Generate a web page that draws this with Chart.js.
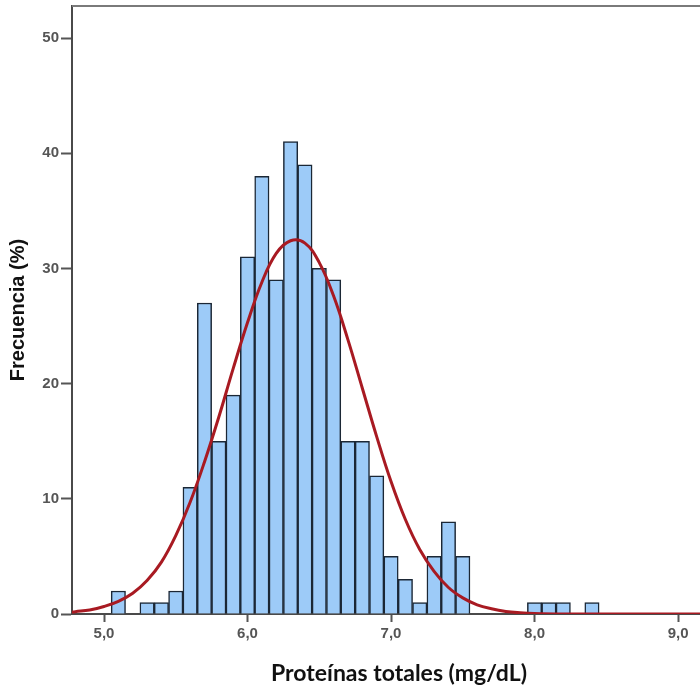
<!DOCTYPE html>
<html>
<head>
<meta charset="utf-8">
<script src="https://cdn.jsdelivr.net/npm/chart.js@4/dist/chart.umd.min.js"></script>
<style>
  html, body { margin: 0; padding: 0; background: #fff; overflow: hidden; }
  #wrap { width: 726px; height: 691px; }
</style>
</head>
<body>
<div id="wrap"><canvas id="c" width="726" height="691"></canvas></div>
<script>
// Histogram bins (centers, mg/dL) and counts
const binCenters = [5.1, 5.3, 5.4, 5.5, 5.6, 5.7, 5.8, 5.9, 6.0, 6.1, 6.2, 6.3, 6.4, 6.5, 6.6, 6.7, 6.8, 6.9, 7.0, 7.1, 7.2, 7.3, 7.4, 7.5, 8.0, 8.1, 8.2, 8.4];
const counts     = [2,   1,   1,   2,   11,  27,  15,  19,  31,  38,  29,  41,  39,  30,  29,  15,  15,  12,  5,   3,   1,   5,   8,   5,   1,   1,   1,   1];

// Fitted normal curve
const curveX = [4.77, 4.8, 4.9, 5.0, 5.1, 5.2, 5.3, 5.4, 5.5, 5.6, 5.7, 5.8, 5.9, 6.0, 6.1, 6.2, 6.3, 6.4, 6.5, 6.6, 6.7, 6.8, 6.9, 7.0, 7.1, 7.2, 7.3, 7.4, 7.5, 7.6, 7.7, 7.8, 7.9, 8.0, 8.2, 8.5, 9.4];
const curveY = [0.15, 0.2, 0.35, 0.65, 1.1, 1.8, 2.9, 4.5, 6.8, 9.7, 13.2, 17.1, 21.3, 25.3, 28.8, 31.3, 32.4, 32.2, 30.5, 27.6, 23.8, 19.6, 15.4, 11.5, 8.2, 5.6, 3.7, 2.3, 1.4, 0.8, 0.45, 0.22, 0.11, 0.05, 0.01, 0, 0];

// Tick values
const xTicks = [5, 6, 7, 8, 9];
const yTicks = [0, 10, 20, 30, 40, 50];

const xTitle = 'Proteínas totales (mg/dL)';
const yTitle = 'Frecuencia (%)';

const topBorder = {
  id: 'topBorder',
  afterDraw(chart) {
    const { ctx, chartArea } = chart;
    ctx.save();
    ctx.strokeStyle = '#7a7a7a';
    ctx.lineWidth = 2;
    ctx.beginPath();
    ctx.moveTo(chartArea.left, chartArea.top);
    ctx.lineTo(chartArea.right, chartArea.top);
    ctx.stroke();
    ctx.restore();
  }
};

const tickFont = { family: 'Liberation Sans, Arial, sans-serif', size: 15, weight: 'bold' };

function zeroPad(s) { s.paddingTop = 0; s.paddingBottom = 0; s.paddingLeft = 0; s.paddingRight = 0; }

new Chart(document.getElementById('c'), {
  type: 'bar',
  data: {
    datasets: [
      {
        type: 'line',
        data: curveX.map((x, i) => ({ x: x, y: curveY[i] })),
        borderColor: '#A81A22',
        borderWidth: 3,
        pointRadius: 0,
        fill: false,
        tension: 0.4,
        order: 0
      },
      {
        type: 'bar',
        data: binCenters.map((x, i) => ({ x: x, y: counts[i] })),
        backgroundColor: '#9DCBF8',
        borderColor: '#1B2735',
        borderWidth: 1.5,
        barPercentage: 1,
        categoryPercentage: 1,
        order: 1
      }
    ]
  },
  options: {
    responsive: false,
    animation: false,
    devicePixelRatio: 1,
    layout: { padding: { top: 6, left: 0, right: 0, bottom: 0 } },
    plugins: { legend: { display: false }, tooltip: { enabled: false } },
    scales: {
      x: {
        type: 'linear',
        offset: false,
        min: 4.777,
        max: 9.334,
        afterFit(s) { s.height = 77; zeroPad(s); },
        afterBuildTicks(s) { s.ticks = xTicks.map(v => ({ value: v })); },
        ticks: {
          callback: v => v.toFixed(1).replace('.', ','),
          font: tickFont,
          color: '#555',
          padding: 3,
          maxRotation: 0
        },
        grid: { offset: false, drawOnChartArea: false, drawTicks: true, tickLength: 8, tickWidth: 2, tickColor: '#555' },
        border: { display: true, color: '#4a4a4a', width: 2 },
        title: {
          display: true,
          text: xTitle,
          color: '#111',
          font: { family: 'Lato, sans-serif', size: 23, weight: 'bold' },
          padding: { top: 0, bottom: 4 }
        }
      },
      y: {
        min: 0,
        max: 52.78,
        afterFit(s) { s.width = 72; zeroPad(s); },
        afterBuildTicks(s) { s.ticks = yTicks.map(v => ({ value: v })); },
        ticks: { font: tickFont, color: '#555', padding: 2 },
        grid: { drawOnChartArea: false, drawTicks: true, tickLength: 11, tickWidth: 2, tickColor: '#555' },
        border: { display: true, color: '#4a4a4a', width: 2 },
        title: {
          display: true,
          text: yTitle,
          color: '#111',
          font: { family: 'Liberation Sans, Arial, sans-serif', size: 20, weight: 'bold' },
          padding: { top: 6, bottom: 0 }
        }
      }
    }
  },
  plugins: [topBorder]
});
</script>
</body>
</html>
